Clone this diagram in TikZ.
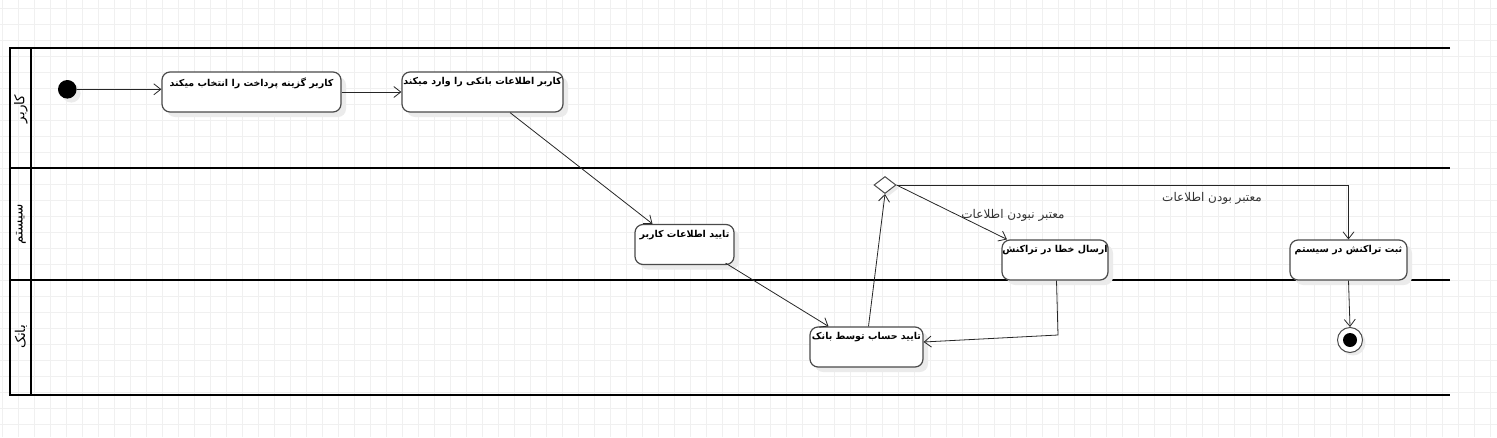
\documentclass[tikz,border=0pt]{standalone}
\usepackage{fontspec}
\usetikzlibrary{arrows.meta,shapes.geometric,shadows,calc}
\TeXXeTstate=1
\newfontfamily\arabicfont[Script=Arabic]{DejaVu Sans}
\definecolor{gridc}{HTML}{F0F0F0}
\definecolor{shadowc}{HTML}{EBEBEB}
\definecolor{borderc}{HTML}{4A4A4A}
\tikzset{
  lane/.style={line width=2pt, black},
  actbox/.style={draw=borderc, line width=1.2pt, fill=white, rounded corners=8pt,
    minimum height=40pt, inner sep=0pt,
    drop shadow={shadow xshift=5pt, shadow yshift=-5pt, fill=shadowc, opacity=1}},
  acttext/.style={font=\arabicfont\bfseries\fontsize{9.5}{11}\selectfont, inner sep=0pt},
  flow/.style={draw=black!85, line width=0.8pt, -{Straight Barb[length=7pt,width=11pt,line width=0.8pt]}},
  guard/.style={font=\arabicfont\fontsize{12}{14}\selectfont, text=black!80, inner sep=0pt},
  lanelabel/.style={font=\arabicfont\fontsize{13.5}{15}\selectfont, rotate=90, inner sep=0pt},
}
\newcommand{\ar}[1]{\beginR #1\endR}
\begin{document}
\begin{tikzpicture}[x=1pt,y=-1pt]
\useasboundingbox (0,0) rectangle (1497,437);
% grid
\foreach \i in {0,...,93} {\draw[gridc, line width=1pt] ({2.7+16*\i},0) -- ({2.7+16*\i},437);}
\foreach \j in {0,...,27} {\draw[gridc, line width=1pt] (0,{8+16*\j}) -- (1497,{8+16*\j});}
% swimlanes
\draw[lane] (1450,48) -- (10,48) -- (10,395) -- (1450,395);
\draw[lane] (31,48) -- (31,395);
\draw[lane] (10,168) -- (1450,168);
\draw[lane] (10,280) -- (1450,280);
\node[lanelabel] (l1) at (21,109) {\ar{کاربر}};
\node[lanelabel] (l2) at (21,224) {\ar{سیستم}};
\node[lanelabel] (l3) at (21,337) {\ar{بانک}};
% nodes
\node[circle, fill=black, minimum size=18.6pt, inner sep=0pt,
  drop shadow={shadow xshift=4pt, shadow yshift=-4pt, fill=shadowc, opacity=1}] (start) at (67.3,89.3) {};
\node[actbox, minimum width=179pt] (n1) at (251.5,92) {};
\node[acttext, anchor=north] (t1) at ($(n1.north)+(0,6)$) {\ar{کاربر گزینه پرداخت را انتخاب میکند}};
\node[actbox, minimum width=161pt] (n2) at (482.5,92) {};
\node[acttext, anchor=north] (t2) at ($(n2.north)+(0,6)$) {\ar{کاربر اطلاعات بانکی را وارد میکند}};
\node[actbox, minimum width=99pt] (n3) at (684.5,244.5) {};
\node[acttext, anchor=north] (t3) at ($(n3.north)+(0,6)$) {\ar{تایید اطلاعات کاربر}};
\node[actbox, minimum width=113pt] (n4) at (866.5,347) {};
\node[acttext, anchor=north] (t4) at ($(n4.north)+(0,6)$) {\ar{تایید حساب توسط بانک}};
\node[actbox, minimum width=106pt] (n5) at (1055,260) {};
\node[acttext, anchor=north] (t5) at ($(n5.north)+(0,6)$) {\ar{ارسال خطا در تراکنش}};
\node[actbox, minimum width=117pt] (n6) at (1348.5,260) {};
\node[acttext, anchor=north] (t6) at ($(n6.north)+(0,6)$) {\ar{ثبت تراکنش در سیستم}};
\node[diamond, draw=borderc, fill=white, line width=1pt, minimum width=22pt, minimum height=17pt, inner sep=0pt,
  drop shadow={shadow xshift=3pt, shadow yshift=-3pt, fill=shadowc, opacity=1}] (d) at (885,185) {};
\node[circle, draw=borderc, fill=white, line width=1pt, minimum size=25pt, inner sep=0pt,
  drop shadow={shadow xshift=3pt, shadow yshift=-3pt, fill=shadowc, opacity=1}] (end) at (1350,340) {};
\node[circle, fill=black, minimum size=14pt, inner sep=0pt] (endin) at (end.center) {};
% connectors
\draw[flow] (start.east) -- (start.east -| n1.west);
\draw[flow] (n1.east) -- (n2.west);
\draw[flow] ([xshift=27.5pt]n2.south) -- ([xshift=-32pt]n3.north);
\draw[flow] ([xshift=41pt,yshift=2pt]n3.south) -- ([xshift=-38pt]n4.north);
\draw[flow] ([xshift=2pt]n4.north) -- (d.south);
\draw[flow] (d.east) -- ([xshift=-48pt]n5.north);
\draw[flow] (d.east) -| (n6.north);
\coordinate (bend) at (1058,335);
\draw[flow] ([xshift=1.5pt]n5.south) -- (bend) -- ([yshift=5pt]n4.east);
\draw[flow] (n6.south) -- (end.north);
% guards
\node[guard] (g1) at (1013,215) {\ar{معتبر نبودن اطلاعات}};
\node[guard] (g2) at (1212,198) {\ar{معتبر بودن اطلاعات}};
\end{tikzpicture}
\end{document}
